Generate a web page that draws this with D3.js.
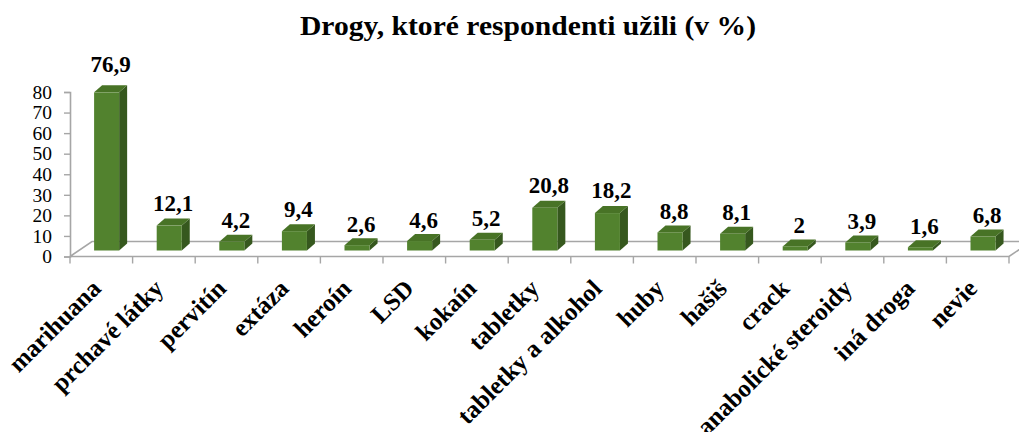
<!DOCTYPE html>
<html>
<head>
<meta charset="utf-8">
<script src="https://cdn.jsdelivr.net/npm/d3@7"></script>
<style>
  html, body { margin: 0; padding: 0; background: #ffffff; }
  svg { display: block; }
  text { font-family: "Liberation Serif", "Times New Roman", serif; }
</style>
</head>
<body>
<svg id="chart" width="1019" height="432"></svg>
<script>
const title = "Drogy, ktoré respondenti užili (v %)";
const categories = ["marihuana", "prchavé látky", "pervitín", "extáza", "heroín", "LSD", "kokaín", "tabletky", "tabletky a alkohol", "huby", "hašiš", "crack", "anabolické steroidy", "iná droga", "nevie"];
const values = [76.9, 12.1, 4.2, 9.4, 2.6, 4.6, 5.2, 20.8, 18.2, 8.8, 8.1, 2, 3.9, 1.6, 6.8];
const yTicks = [0, 10, 20, 30, 40, 50, 60, 70, 80];

const W = 1019, H = 432;
const svg = d3.select("#chart");

// layout
const left = 70, right = 1009, floorY = 256.5, topY = 92;
const depth = { dx: 22, dy: -15 };       // floor depth
const barShift = { dx: 9, dy: -6 };      // bar front face position inside the floor
const barDepth = { dx: 8, dy: -7 };      // bar's own depth
const colors = { front: "#52822e", side: "#36581e", top: "#487326", axis: "#a6a6a6" };

const x = d3.scaleBand().domain(categories).range([left, right]).padding(0);
const y = d3.scaleLinear().domain([0, 80]).range([floorY, topY]);
const bw = x.bandwidth();

// title
svg.append("text")
  .attr("x", 528).attr("y", 35)
  .attr("text-anchor", "middle")
  .attr("font-weight", "bold").attr("font-size", 27)
  .attr("textLength", 456).attr("lengthAdjust", "spacingAndGlyphs")
  .text(title);

// floor
const floor = svg.append("g").attr("fill", "none").attr("stroke", colors.axis).attr("stroke-width", 1.6);
floor.append("path").attr("d", d3.line()([
  [left, floorY], [right, floorY], [right + depth.dx, floorY + depth.dy],
  [left + depth.dx, floorY + depth.dy], [left, floorY]
]));

// category ticks
const catTicks = categories.map(c => x(c)).concat([right]);
svg.append("g").selectAll("line").data(catTicks).join("line")
  .attr("x1", d => d).attr("x2", d => d)
  .attr("y1", floorY).attr("y2", floorY + 7)
  .attr("stroke", colors.axis).attr("stroke-width", 1.4);

// y axis
const yAxis = svg.append("g")
  .attr("transform", `translate(${left},0)`)
  .call(d3.axisLeft(y).tickValues(yTicks).tickSize(6).tickPadding(12).tickFormat(d3.format("d")));
yAxis.select(".domain").attr("stroke", colors.axis).attr("stroke-width", 1.6);
yAxis.selectAll(".tick line").attr("stroke", colors.axis).attr("stroke-width", 1.4);
yAxis.selectAll(".tick text")
  .attr("font-family", "Liberation Serif, Times New Roman, serif")
  .attr("font-size", 19.5).attr("fill", "#000");

// bars
const bars = svg.append("g").selectAll("g").data(values.map((v, i) => ({ v, c: categories[i] }))).join("g");
const faceX = d => x(d.c) + bw * 0.385;
const faceW = bw * 0.4;
const faceTop = d => y(d.v) + barShift.dy;
const faceBot = d => y(0) + barShift.dy;

bars.append("path").attr("fill", colors.side)
  .attr("d", d => {
    const x1 = faceX(d) + faceW, t = faceTop(d), b = faceBot(d);
    return d3.line()([[x1, t], [x1 + barDepth.dx, t + barDepth.dy], [x1 + barDepth.dx, b + barDepth.dy], [x1, b]]) + "Z";
  });
bars.append("path").attr("fill", colors.top)
  .attr("d", d => {
    const x0 = faceX(d), t = faceTop(d);
    return d3.line()([[x0, t], [x0 + faceW, t], [x0 + faceW + barDepth.dx, t + barDepth.dy], [x0 + barDepth.dx, t + barDepth.dy]]) + "Z";
  });
bars.append("rect").attr("fill", colors.front)
  .attr("x", faceX).attr("width", faceW)
  .attr("y", faceTop).attr("height", d => faceBot(d) - faceTop(d));

// value labels
const fmt = v => String(v).replace(".", ",");
bars.append("text")
  .attr("x", d => faceX(d) + faceW / 2 + 4)
  .attr("y", d => faceTop(d) + barDepth.dy - (6 + 0.1 * d.v))
  .attr("text-anchor", "middle")
  .attr("font-weight", "bold").attr("font-size", 23)
  .text(d => fmt(d.v));

// category labels
svg.append("g").selectAll("text").data(categories).join("text")
  .attr("transform", d => `translate(${x(d) + bw / 2 + 1},${290}) rotate(-45)`)
  .attr("text-anchor", "end")
  .attr("font-weight", "bold").attr("font-size", 25)
  .text(d => d);
</script>
</body>
</html>
